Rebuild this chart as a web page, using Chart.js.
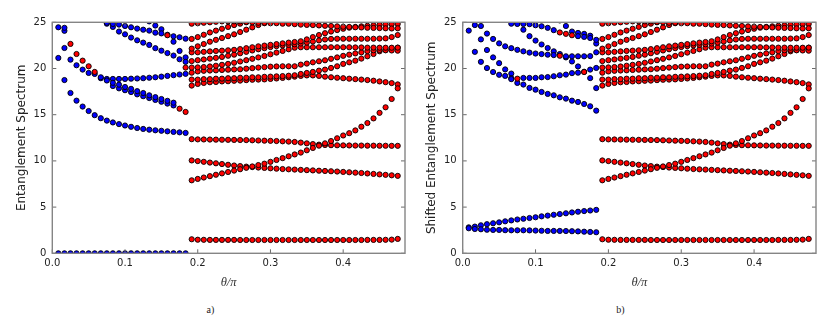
<!DOCTYPE html>
<html><head><meta charset="utf-8">
<script src="https://cdn.jsdelivr.net/npm/chart.js@4/dist/chart.umd.min.js"></script>
<style>
html,body{margin:0;padding:0;background:#fff;width:831px;height:319px;overflow:hidden;}
canvas{position:absolute;top:0;}
.cap{position:absolute;top:304px;line-height:12px;font-family:"Liberation Serif","DejaVu Serif",serif;font-size:10px;color:#222;}
</style></head><body>
<canvas id="ca" width="415" height="300" style="left:0"></canvas>
<canvas id="cb" width="416" height="300" style="left:415px"></canvas>
<div class="cap" style="left:206.6px">a)</div>
<div class="cap" style="left:616.3px">b)</div>
<script>
// ---------- theta grids (theta / pi) ----------
const thetaBlue = [0.0083, 0.0167, 0.025, 0.0333, 0.0417, 0.05, 0.0583, 0.0667, 0.075, 0.0833, 0.0917, 0.1, 0.1083, 0.1167, 0.125, 0.1333, 0.1417, 0.15, 0.1583, 0.1667, 0.175, 0.1833];
const thetaRed = [0.1917, 0.2, 0.2083, 0.2167, 0.225, 0.2333, 0.2417, 0.25, 0.2583, 0.2667, 0.275, 0.2833, 0.2917, 0.3, 0.3083, 0.3167, 0.325, 0.3333, 0.3417, 0.35, 0.3583, 0.3667, 0.375, 0.3833, 0.3917, 0.4, 0.4083, 0.4167, 0.425, 0.4333, 0.4417, 0.45, 0.4583, 0.4667, 0.475];

// ---------- red levels (theta > 0.19), same in both panels ----------
const redLevel1 = [1.52, 1.47, 1.46, 1.45, 1.45, 1.45, 1.45, 1.45, 1.44, 1.44, 1.44, 1.44, 1.44, 1.44, 1.44, 1.44, 1.44, 1.44, 1.44, 1.44, 1.44, 1.44, 1.44, 1.44, 1.44, 1.44, 1.44, 1.44, 1.44, 1.45, 1.45, 1.45, 1.46, 1.48, 1.56];
const redRise = [7.9, 8.05, 8.2, 8.35, 8.5, 8.65, 8.8, 8.95, 9.1, 9.25, 9.4, 9.55, 9.7, 9.9, 10.1, 10.3, 10.5, 10.7, 10.9, 11.15, 11.4, 11.65, 11.9, 12.15, 12.45, 12.75, 13.0, 13.3, 13.7, 14.1, 14.6, 15.2, 15.8, 16.7, 17.85];
const red10 = [10.05, 9.98, 9.9, 9.82, 9.74, 9.66, 9.58, 9.5, 9.44, 9.38, 9.33, 9.28, 9.24, 9.2, 9.16, 9.12, 9.09, 9.06, 9.03, 9.0, 8.97, 8.94, 8.91, 8.88, 8.85, 8.81, 8.77, 8.73, 8.69, 8.64, 8.59, 8.54, 8.49, 8.44, 8.38];
const red12 = [12.35, 12.33, 12.32, 12.31, 12.3, 12.29, 12.28, 12.27, 12.26, 12.25, 12.23, 12.21, 12.19, 12.17, 12.15, 12.12, 12.09, 12.05, 11.98, 11.9, 11.82, 11.76, 11.72, 11.7, 11.69, 11.68, 11.67, 11.66, 11.66, 11.65, 11.65, 11.64, 11.64, 11.63, 11.63];
const redU1 = [24.85, 24.9, 24.95, 25.0, 25.05, 25.1, 25.1, 25.1, 25.1, 25.05, 25.0, 24.95, 24.95, 24.9, 24.9, 24.85, 24.85, 24.8, 24.75, 24.72, 24.7, 24.66, 24.62, 24.6, 24.56, 24.52, 24.5, 24.46, 24.44, 24.41, 24.39, 24.37, 24.35, 24.33, 24.35];
const redU2 = [23.2, 23.4, 23.65, 23.9, 24.1, 24.3, 24.5, 24.7, 24.85, 25.0, 25.2, 25.4];
const redU3 = [22.15, 22.4, 22.65, 22.9, 23.1, 23.3, 23.5, 23.7, 23.95, 24.2, 24.45, 24.7, 24.9, 25.1, 25.3];
const redU4 = [21.75, 21.75, 21.8, 21.85, 21.9, 21.93, 21.97, 22.02, 22.1, 22.2, 22.3, 22.4, 22.48, 22.56, 22.64, 22.72, 22.8, 22.87, 22.95, 23.15, 23.4, 23.62, 23.82, 24.0, 24.16, 24.3, 24.42, 24.5, 24.56, 24.62, 24.67, 24.72, 24.76, 24.8, 24.82];
const redU5 = [20.8, 20.9, 20.98, 21.07, 21.15, 21.25, 21.38, 21.5, 21.65, 21.8, 21.95, 22.08, 22.2, 22.32, 22.42, 22.5, 22.56, 22.62, 22.7, 22.8, 22.92, 23.04, 23.14, 23.2, 23.22, 23.22, 23.22, 23.22, 23.22, 23.22, 23.22, 23.24, 23.26, 23.4, 23.62];
const redU6 = [20.1, 20.12, 20.16, 20.22, 20.3, 20.4, 20.5, 20.62, 20.76, 20.9, 21.05, 21.2, 21.36, 21.54, 21.72, 21.9, 22.08, 22.25, 22.3, 22.3, 22.3, 22.3, 22.3, 22.3, 22.3, 22.3, 22.3, 22.28, 22.28, 22.26, 22.26, 22.25, 22.25, 22.25, 22.26];
const redU7 = [19.55, 19.68, 19.75, 19.78, 19.8, 19.84, 19.87, 19.9, 19.92, 19.98, 20.04, 20.1, 20.15, 20.2, 20.22, 20.24, 20.24, 20.24, 20.42, 20.53, 20.67, 20.78, 20.89, 21.05, 21.2, 21.37, 21.5, 21.63, 21.75, 21.88, 21.97, 22.0, 21.97, 21.95, 21.93];
const redU8 = [18.8, 18.8, 18.85, 18.85, 18.9, 18.9, 18.95, 18.95, 19.0, 19.0, 19.05, 19.05, 19.1, 19.12, 19.15, 19.18, 19.22, 19.27, 19.41, 19.52, 19.63, 19.77, 19.88, 20.06, 20.24, 20.5, 20.67, 20.85, 21.07, 21.32, 21.57, 21.86, 22.0, 22.15, 22.25];
const redU9 = [18.15, 18.33, 18.44, 18.51, 18.54, 18.6, 18.62, 18.67, 18.69, 18.74, 18.78, 18.8, 18.82, 18.87, 18.92, 18.98, 19.05, 19.12, 19.2, 19.25, 19.25, 19.2, 19.12, 19.05, 19.0, 18.95, 18.9, 18.85, 18.8, 18.75, 18.68, 18.6, 18.52, 18.42, 18.28];

// ---------- panel a: blue levels (theta < 0.19) ----------
const aZero = [0, 0, 0, 0, 0, 0, 0, 0, 0, 0, 0, 0, 0, 0, 0, 0, 0, 0, 0, 0, 0, 0];
const a13 = [21.14, 18.75, 17.35, 16.52, 15.88, 15.4, 14.95, 14.62, 14.36, 14.16, 13.98, 13.83, 13.69, 13.56, 13.46, 13.38, 13.31, 13.26, 13.2, 13.14, 13.09, 13.03];
const aDesc1 = [null, 22.22, 20.96, 20.35, 19.88, 19.52, 19.41, 19.05, 18.7, 18.45, 18.25, 18.0, 17.8, 17.55, 17.35, 17.1, 16.9, 16.7, 16.5, 16.3, null, null];
const aDesc2 = [null, null, null, null, null, null, null, null, null, 18.1, 17.85, 17.65, 17.45, 17.2, 17.0, 16.8, 16.6, 16.4, 16.2, 16.0, null, null];
const aFlat = [null, null, null, null, null, null, null, 18.95, 18.87, 18.87, 18.87, 18.87, 18.9, 18.92, 18.95, 19.0, 19.05, 19.12, 19.2, 19.28, 19.35, 19.42];
const aTop1 = [null, null, null, null, null, null, null, null, 24.95, 24.82, 24.75, 24.6, 24.46, 24.32, 24.2, 24.1, 23.88, 23.8, null, 23.49, 23.38, 23.23];
const aTop2 = [null, null, null, null, null, null, null, null, 24.85, 24.5, 24.0, 23.7, 23.35, 23.05, 22.8, 22.55, 22.2, 21.93, 21.67, 21.4, 21.0, 20.72];
const aTop3 = [null, null, null, null, null, null, null, null, null, null, null, null, null, null, null, 25.1, 24.65, 24.25, 23.65, 22.9, 21.9, 21.2];
const aEdge1 = [24.46, 24.4];
const aEdge2 = [null, 24.08];
const aRed1 = [null, null, 22.66, 21.57, 20.85, 20.24, 19.63, null, null, null, null, null, null, null, null, null, null, null, 23.6, null, 15.65, 15.3];
const aRed2 = [null, null, null, null, null, null, null, null, null, null, null, null, null, null, null, null, null, null, null, null, null, 20.1];

// ---------- panel b: blue levels (theta < 0.19), shifted ----------
const bLow = [2.71, 2.63, 2.6, 2.55, 2.53, 2.53, 2.5, 2.49, 2.49, 2.49, 2.48, 2.46, 2.44, 2.42, 2.42, 2.42, 2.41, 2.39, 2.37, 2.34, 2.31, 2.28];
const bUp = [2.81, 2.89, 3.03, 3.15, 3.25, 3.35, 3.46, 3.56, 3.66, 3.74, 3.82, 3.9, 4.0, 4.08, 4.17, 4.25, 4.33, 4.42, 4.5, 4.57, 4.63, 4.7];
const bDesc = [null, 21.8, 20.72, 20.05, 19.62, 19.32, 19.2, 18.85, 18.44, 18.26, 17.9, 17.71, 17.46, 17.25, 17.1, 16.88, 16.74, 16.52, 16.38, 16.16, 15.91, 15.44];
const bFlat = [null, null, null, null, null, null, null, 18.95, null, 18.98, 18.98, 18.98, 19.05, 19.07, 19.16, 19.27, 19.34, 19.5, 19.55, null, 19.88, 20.06];
const bLine2 = [24.1, null, 23.15, 22.0, 21.2, 20.58, 19.9, 19.45];
const bLine3 = [null, 24.7, 24.6, 23.78, 23.2, 22.72, 22.4, 22.2, 22.02, 21.86, 21.72, 21.62, 21.56, 21.5, 21.45, null, 21.32, 21.32, 21.32, 21.32, 21.34, 21.75];
const bTop1 = [null, null, null, null, null, null, null, 24.85, 24.82, 24.82, 24.8, 24.68, 24.57, 24.4, 24.15, null, null, null, 23.5, 23.42, 23.3, 23.1];
const bTop3 = [null, null, null, null, null, null, null, null, null, null, null, null, null, null, null, 25.2, 24.6, 24.0, 23.85, 23.75, 23.55, 22.7];
const bSteep = [null, null, null, null, null, null, null, null, 24.9, 24.2, 23.5, 23.02, 22.6, 22.22, 21.86, 21.57, 21.2, 20.76, 20.22, 19.65, 18.96, 17.88];
const bRed1 = [null, null, null, null, null, null, null, null, 18.9, null, null, null, null, null, null, null, null, null, null, 19.62];
const bRed2 = [null, null, null, null, null, null, null, null, null, null, null, null, null, null, null, 21.38];
const bRed3 = [null, null, null, null, null, null, null, null, null, null, null, null, null, null, null, 23.9, 23.75, 23.6];

// ---------- helpers ----------
const BLUE = '#0000ff', RED = '#ff0000';
function series(thetas, vals, color) {
  const pts = [];
  vals.forEach((v, k) => { if (v !== null && v !== undefined) pts.push({x: thetas[k], y: v}); });
  return {
    data: pts, showLine: false, clip: 0,
    pointRadius: 2.6, pointHoverRadius: 2.6, pointBorderWidth: 0.9, borderWidth: 0.9,
    pointBackgroundColor: color, backgroundColor: color,
    pointBorderColor: '#000', borderColor: '#000'
  };
}
const sharedRed = [redLevel1, redRise, red10, red12, redU1, redU2, redU3, redU4, redU5, redU6, redU7, redU8, redU9]
  .map(arr => series(thetaRed, arr, RED));

const framePlugin = {
  id: 'frame',
  afterDatasetsDraw(chart) {
    const {ctx, chartArea: a, scales} = chart;
    const x = scales.x, y = scales.y, L = 4;
    ctx.save();
    ctx.strokeStyle = '#6a6a6a';
    ctx.lineWidth = 1;
    ctx.beginPath();
    x.ticks.forEach(t => {
      const px = x.getPixelForValue(t.value);
      ctx.moveTo(px, a.bottom); ctx.lineTo(px, a.bottom - L);
      ctx.moveTo(px, a.top); ctx.lineTo(px, a.top + L);
    });
    y.ticks.forEach(t => {
      const py = y.getPixelForValue(t.value);
      ctx.moveTo(a.left, py); ctx.lineTo(a.left + L, py);
      ctx.moveTo(a.right, py); ctx.lineTo(a.right - L, py);
    });
    ctx.stroke();
    ctx.lineWidth = 1.4;
    ctx.strokeStyle = '#858585';
    ctx.strokeRect(a.left, a.top, a.right - a.left, a.bottom - a.top);
    ctx.restore();
  }
};

function makeChart(id, yTitle, yWidth, yTitlePad, padRight, datasets) {
  return new Chart(document.getElementById(id), {
    type: 'scatter',
    data: {datasets},
    options: {
      responsive: false, animation: false, devicePixelRatio: 1,
      layout: {padding: {top: 22.3, right: padRight, left: 0, bottom: 0}},
      plugins: {legend: {display: false}, tooltip: {enabled: false}},
      events: [],
      scales: {
        x: {
          type: 'linear', min: 0, max: 0.485,
          ticks: {stepSize: 0.1, includeBounds: false, maxRotation: 0, padding: 4,
                  callback: v => Number(v).toFixed(1),
                  font: {family: 'DejaVu Sans', size: 10}, color: '#222'},
          grid: {display: false, drawTicks: false},
          border: {display: false},
          title: {display: true, text: 'θ/π', color: '#333',
                  font: {family: 'Liberation Serif', style: 'italic', size: 12.5},
                  padding: {top: 0, bottom: 9.8}},
          afterFit: s => { s.height = 46.7; }
        },
        y: {
          type: 'linear', min: 0, max: 25,
          ticks: {stepSize: 5, includeBounds: false, padding: 6,
                  callback: v => String(v),
                  font: {family: 'DejaVu Sans', size: 10}, color: '#222'},
          grid: {display: false, drawTicks: false},
          border: {display: false},
          title: {display: true, text: yTitle, color: '#222',
                  font: {family: 'DejaVu Sans', size: 12},
                  padding: {top: yTitlePad, bottom: 0}},
          afterFit: s => { s.width = yWidth; }
        }
      }
    },
    plugins: [framePlugin]
  });
}

const dsA = [
  series(thetaBlue, aRed1, RED), series(thetaBlue, aRed2, RED),
  ...sharedRed,
  ...[aZero, a13, aDesc1, aDesc2, aFlat, aTop1, aTop2, aTop3, aEdge1, aEdge2].map(arr => series(thetaBlue, arr, BLUE))
];
const dsB = [
  series(thetaBlue, bRed1, RED), series(thetaBlue, bRed2, RED), series(thetaBlue, bRed3, RED),
  ...sharedRed.map(d => ({...d})),
  ...[bLow, bUp, bDesc, bFlat, bLine2, bLine3, bTop1, bTop3, bSteep].map(arr => series(thetaBlue, arr, BLUE))
];

makeChart('ca', 'Entanglement Spectrum', 52.3, 14.9, 10, dsA);
makeChart('cb', 'Shifted Entanglement Spectrum', 47.7, 9.9, 15, dsB);
</script>
</body></html>
